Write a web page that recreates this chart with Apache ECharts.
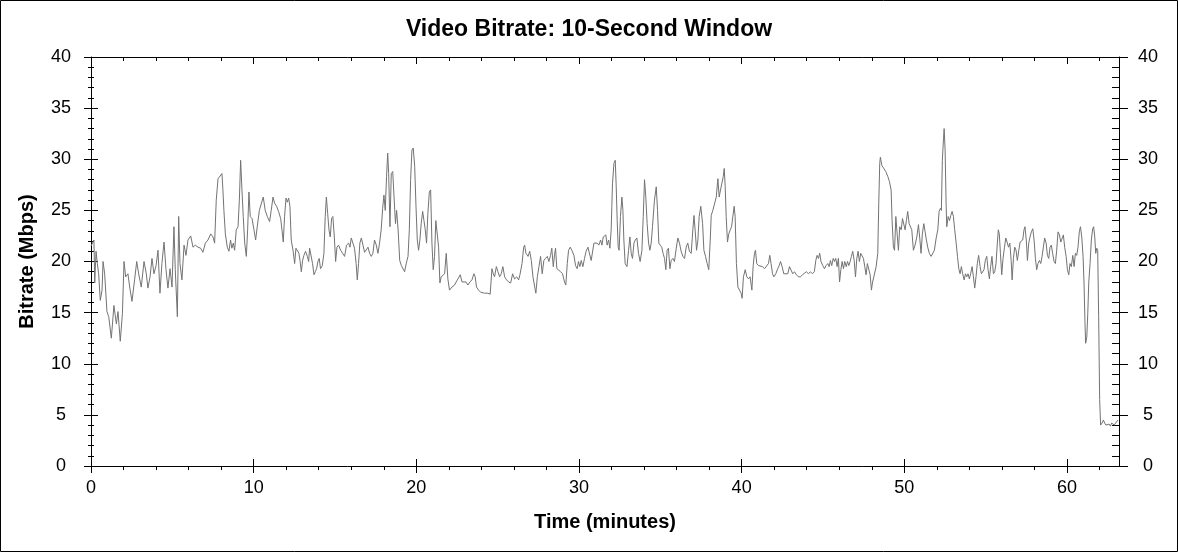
<!DOCTYPE html>
<html>
<head>
<meta charset="utf-8">
<script src="https://cdn.jsdelivr.net/npm/echarts@6/dist/echarts.min.js"></script>
<style>
  html, body { margin: 0; padding: 0; background: #fff; }
  #main { width: 1178px; height: 552px; }
</style>
</head>
<body>
<div id="main"></div>
<script>
// time (minutes) and bitrate (Mbps)
var minutes = [
  0.00,0.18,0.23,0.31,0.39,0.47,0.57,0.68,0.74,0.84,0.98,1.09,1.25,1.41,1.56,1.66,1.80,1.93,
  2.03,2.13,2.27,2.38,2.52,2.68,2.81,2.93,3.09,3.26,3.40,3.50,3.63,3.75,3.87,4.00,4.12,4.24,
  4.36,4.49,4.61,4.73,4.86,4.98,5.10,5.18,5.31,5.39,5.47,5.59,5.72,5.84,5.96,6.13,6.27,6.41,
  6.58,6.74,6.88,7.03,7.19,7.36,7.50,7.60,7.70,7.81,7.93,8.05,
  8.11,8.17,8.26,8.38,8.48,8.58,8.66,8.75,8.83,8.93,9.04,9.12,9.20,9.28,9.36,9.45,9.55,9.63,
  9.71,9.79,9.90,10.02,10.12,10.22,10.35,10.47,10.59,10.71,10.84,10.98,11.08,11.19,11.29,
  11.41,11.53,11.66,11.74,11.82,11.90,11.99,12.07,12.15,12.23,12.31,12.43,12.52,12.60,12.68,
  12.78,12.85,12.93,13.01,13.09,13.19,13.30,13.38,13.44,13.54,13.62,13.71,13.79,13.87,13.95,
  14.03,14.11,14.22,14.32,14.40,14.47,14.55,14.63,14.71,14.79,14.87,14.96,15.04,15.12,15.22,
  15.35,15.47,15.59,15.71,15.84,15.92,
  16.00,16.10,16.20,16.30,16.37,16.45,16.53,16.62,16.72,16.82,16.92,17.03,17.13,17.23,17.33,
  17.43,17.54,17.64,17.74,17.84,17.93,18.01,18.09,18.17,18.24,18.30,18.38,18.46,18.55,18.63,
  18.72,18.79,18.88,18.98,19.08,19.18,19.28,19.38,19.49,19.57,19.65,19.73,19.81,19.90,19.98,
  20.06,20.14,20.22,20.30,20.39,20.47,20.55,20.63,20.71,20.80,20.88,20.96,21.04,21.12,21.20,
  21.29,21.37,21.45,21.53,21.64,21.74,21.84,21.94,22.04,22.19,22.35,22.45,22.56,22.70,22.81,
  22.93,23.05,23.17,23.30,23.42,23.54,23.62,23.70,23.83,23.95,
  24.20,24.40,24.54,24.65,24.73,24.81,24.92,25.02,25.12,25.22,25.32,25.43,25.55,25.67,25.80,
  25.92,26.04,26.17,26.29,26.37,26.50,26.60,26.66,26.74,26.87,26.97,27.07,27.17,27.28,27.35,
  27.44,27.54,27.64,27.74,27.84,27.94,28.05,28.15,28.25,28.33,28.42,28.50,28.56,28.64,28.75,
  28.87,28.99,29.11,29.19,29.28,29.36,29.46,29.56,29.69,29.79,29.89,29.97,30.05,30.14,30.24,
  30.34,30.44,30.55,30.65,30.75,30.83,30.92,31.02,31.12,31.22,31.33,31.41,31.49,31.57,31.65,
  31.73,31.82,31.90,31.98,32.02,
  32.06,32.15,32.23,32.29,32.35,32.41,32.47,32.55,32.64,32.70,32.76,32.84,32.95,33.05,33.13,
  33.21,33.29,33.38,33.46,33.56,33.66,33.76,33.87,33.95,34.03,34.11,34.19,34.28,34.36,34.44,
  34.52,34.64,34.75,34.83,34.91,34.99,35.09,35.17,35.26,35.34,35.42,35.50,35.59,35.67,35.77,
  35.87,35.98,36.08,36.18,36.28,36.39,36.49,36.59,36.69,36.79,36.90,37.00,37.07,37.15,37.23,
  37.31,37.39,37.49,37.60,37.68,37.78,37.88,37.98,38.07,38.13,38.23,38.34,38.44,38.54,38.62,
  38.70,38.79,38.87,38.93,38.99,39.05,39.13,39.21,39.30,39.38,39.46,39.54,39.60,39.68,39.77,
  39.87,39.97,40.03,
  40.11,40.22,40.32,40.42,40.52,40.63,40.71,40.79,40.85,40.93,41.04,41.16,41.28,41.41,41.53,
  41.65,41.73,41.81,41.90,41.98,42.10,42.22,42.31,42.39,42.49,42.59,42.71,42.84,42.94,43.04,
  43.14,43.25,43.37,43.49,43.62,43.74,43.86,43.98,44.11,44.23,44.35,44.47,44.56,44.64,44.72,
  44.80,44.88,44.99,45.09,45.19,45.30,45.38,45.46,45.54,45.63,45.71,45.79,45.87,45.95,46.02,
  46.10,46.18,46.26,46.34,46.43,46.51,46.59,46.67,46.75,46.83,46.92,47.00,47.08,47.16,47.24,
  47.32,47.41,47.49,47.57,47.65,47.73,47.82,47.90,47.98,48.04,
  48.16,48.27,48.37,48.43,48.49,48.53,48.62,48.74,48.86,48.99,49.09,49.19,49.25,49.33,49.40,
  49.48,49.56,49.64,49.72,49.81,49.89,49.97,50.05,50.13,50.21,50.30,50.38,50.46,50.56,50.66,
  50.77,50.87,50.95,51.03,51.11,51.20,51.28,51.36,51.44,51.54,51.65,51.77,51.85,51.96,52.06,
  52.14,52.22,52.28,52.34,52.41,52.45,52.51,52.57,52.61,52.70,52.78,52.86,52.94,53.02,53.10,
  53.19,53.27,53.35,53.43,53.51,53.59,53.68,53.76,53.84,53.92,54.00,54.08,54.17,54.25,54.33,
  54.41,54.49,54.57,54.66,54.74,54.82,54.90,54.98,55.07,55.15,55.23,55.31,55.39,55.48,55.56,
  55.64,55.72,55.78,55.84,55.91,55.99,
  56.07,56.16,56.24,56.32,56.41,56.49,56.57,56.63,56.71,56.79,56.87,56.95,57.04,57.12,57.20,
  57.28,57.36,57.42,57.50,57.57,57.65,57.73,57.81,57.90,57.98,58.06,58.14,58.22,58.31,58.39,
  58.47,58.55,58.63,58.72,58.80,58.88,58.96,59.04,59.12,59.21,59.29,59.37,59.45,59.54,59.62,
  59.70,59.78,59.86,59.95,60.03,60.11,60.19,60.27,60.36,60.44,60.52,60.60,60.68,60.76,60.83,
  60.91,60.99,61.05,61.11,61.15,61.22,61.28,61.34,61.42,61.50,61.58,61.64,61.71,61.77,61.83,
  61.89,61.95,62.01,62.07,62.16,62.24,62.32,62.40,62.50,62.59,62.67,62.75,62.83,62.91,62.99,
  63.08,63.14
];
var mbps = [
  21.5,22.1,17.9,21.0,19.8,18.8,16.2,17.2,20.0,18.8,15.1,14.6,12.5,15.7,13.9,15.1,12.2,14.9,
  20.0,18.5,18.8,17.5,16.1,18.2,20.0,18.8,17.5,20.0,18.8,17.4,18.5,20.3,18.8,19.6,21.1,16.9,
  19.8,21.9,19.2,17.4,19.3,17.5,23.4,19.2,14.6,24.4,19.8,18.2,21.6,20.6,22.1,22.5,21.4,21.6,
  21.4,21.3,20.9,21.8,22.1,22.7,22.4,21.8,26.0,28.1,28.0,28.6,
  27.0,25.0,22.7,21.4,21.0,22.1,21.3,21.8,21.1,23.1,23.4,26.0,29.9,27.0,24.4,21.8,20.5,23.1,
  26.8,24.4,24.2,23.1,22.1,23.4,25.0,25.0,26.3,25.0,24.4,23.9,25.0,26.3,25.7,
  25.4,24.9,24.2,23.1,21.9,24.4,26.2,25.8,26.2,25.4,22.1,21.0,19.8,21.3,21.4,
  20.8,20.1,19.0,20.1,20.6,21.0,20.5,20.0,21.3,21.3,19.8,18.7,19.0,19.3,20.0,
  20.3,19.3,19.6,20.8,24.4,26.3,24.7,23.1,22.4,24.2,24.4,22.4,20.0,21.4,21.6,
  21.1,20.8,20.5,21.6,21.8,21.4,
  22.3,21.8,21.3,19.8,18.2,19.8,21.8,22.3,21.6,20.9,21.0,21.4,20.8,20.5,20.8,
  22.1,21.6,20.8,21.8,23.1,25.2,26.5,25.0,28.3,30.6,28.6,23.4,28.6,28.8,26.3,
  23.7,25.0,23.1,20.1,19.6,19.5,19.0,19.8,20.5,23.1,28.0,30.9,31.1,29.3,25.4,
  22.1,21.1,22.1,23.7,24.9,24.0,23.1,21.8,24.7,26.8,27.0,21.8,19.2,20.5,24.0,
  24.0,21.4,17.9,18.5,18.5,18.8,20.8,18.3,17.2,17.5,17.7,18.0,18.3,18.7,18.0,
  17.9,18.0,17.7,18.0,18.2,18.8,18.5,17.5,17.2,17.0,
  16.9,16.9,16.8,19.3,18.8,18.5,19.5,19.0,18.5,18.8,19.5,18.5,18.2,18.0,17.9,
  18.8,18.3,18.5,18.2,18.7,19.8,21.4,21.6,20.8,20.5,21.0,20.1,18.5,17.5,16.9,
  18.5,19.5,20.5,18.8,20.1,20.3,20.5,20.0,20.6,21.3,19.5,20.7,21.3,19.3,19.2,
  19.0,18.8,18.0,17.7,19.8,21.1,21.4,21.1,20.6,19.6,19.3,20.0,19.5,20.1,19.5,
  20.3,21.0,21.4,21.4,20.1,20.0,21.8,21.8,21.8,21.6,22.1,21.6,22.4,22.3,22.6,
  21.6,22.1,21.3,23.1,25.4,
  27.6,29.6,29.9,27.3,24.0,21.4,21.1,24.4,26.3,25.0,22.1,19.8,19.5,21.1,22.4,
  20.8,20.3,21.8,22.1,22.3,20.8,20.0,21.1,24.4,28.0,26.3,23.7,21.8,21.1,21.8,
  23.4,26.0,27.3,25.0,21.8,21.6,21.4,20.8,20.3,19.2,21.1,21.3,19.3,20.1,20.3,
  20.0,21.3,22.3,21.8,21.0,20.5,20.3,21.4,21.8,21.0,20.8,23.1,24.5,22.9,21.1,
  22.1,24.4,25.4,23.7,21.1,20.5,19.8,19.2,22.1,24.5,25.0,25.0,26.3,28.1,26.3,
  27.0,27.1,28.3,29.1,27.3,24.4,21.9,22.7,23.1,23.4,23.4,25.4,24.4,19.8,17.5,
  17.4,16.9,16.4,
  18.5,19.2,18.5,18.3,18.5,17.2,19.6,20.8,21.1,19.8,19.6,19.5,19.5,19.3,19.2,
  19.8,20.6,19.8,18.8,18.5,18.8,19.3,19.6,20.0,19.5,18.8,18.8,18.8,19.5,19.5,
  18.8,19.0,18.7,18.5,18.5,18.7,18.7,19.0,18.8,19.0,18.8,19.0,20.1,20.6,20.3,
  20.8,20.0,19.6,19.3,19.6,19.8,19.5,20.1,19.6,20.3,20.0,20.3,19.5,20.3,18.0,
  19.2,20.0,19.3,20.0,19.5,20.0,19.6,20.0,20.5,21.0,20.1,18.5,20.3,21.0,20.0,
  20.8,20.8,20.3,19.5,18.7,19.8,19.8,18.7,17.2,17.9,
  17.9,19.5,20.8,25.7,29.6,30.2,29.4,29.3,28.8,28.3,27.8,27.0,24.0,21.4,21.1,
  24.4,22.7,21.1,23.4,23.1,24.2,24.2,23.1,24.0,24.9,23.7,23.6,23.1,21.1,21.6,
  22.4,23.6,22.3,20.8,22.7,23.7,22.9,22.1,21.4,20.8,20.5,20.5,21.1,22.3,23.1,
  24.9,25.2,25.0,29.9,32.0,33.0,30.9,25.7,23.4,24.4,24.0,24.5,24.9,24.4,23.1,
  21.8,20.5,19.3,18.8,19.5,18.8,18.2,18.8,18.5,18.8,18.3,18.8,19.5,18.5,17.4,
  18.5,19.8,20.6,19.5,18.8,18.8,19.2,20.1,20.5,19.2,18.3,19.5,20.5,18.8,19.0,
  19.8,21.8,23.1,22.7,20.8,18.7,
  20.3,21.4,22.3,21.9,21.4,21.8,20.1,18.2,20.3,21.4,21.1,20.1,21.1,21.9,21.9,
  22.1,23.1,23.4,22.1,20.1,21.8,22.4,22.9,23.2,22.1,20.3,19.2,19.8,20.1,19.8,
  20.5,21.4,22.3,21.8,20.6,20.3,21.4,21.6,20.8,20.0,19.8,21.1,22.9,22.6,21.9,
  21.8,22.6,21.4,20.5,19.2,18.7,19.8,19.5,20.6,19.5,20.8,20.6,21.4,22.9,23.4,
  22.4,20.5,17.9,13.9,12.0,12.6,14.9,17.9,19.8,22.1,23.2,23.4,22.4,20.8,21.3,
  21.1,14.6,6.5,4.0,4.2,4.5,4.2,4.0,4.0,4.1,3.9,4.2,4.1,4.0,4.2,
  4.2,4.5
];

// axis ticks
var xMajor = [0, 10, 20, 30, 40, 50, 60];
var xMinor = [2, 4, 6, 8, 12, 14, 16, 18, 22, 24, 26, 28, 32, 34, 36, 38,
              42, 44, 46, 48, 52, 54, 56, 58, 62];
var xMax = 63.2;

var font = "'Liberation Sans', Arial, sans-serif";
var black = '#000';

var points = minutes.map(function (t, i) { return [t, mbps[i]]; });

var chart = echarts.init(document.getElementById('main'));

// an x axis that only draws some ticks (used several times to fake crossing ticks)
function xTicks(pos, values, len, inside, showLine) {
    return {
        type: 'value', position: pos, min: 0, max: xMax,
        axisLine: { show: showLine, onZero: false, lineStyle: { color: black, width: 1 } },
        axisTick: { show: true, customValues: values, length: len, inside: inside,
                    lineStyle: { color: black, width: 1 } },
        axisLabel: { show: false },
        splitLine: { show: false }
    };
}

function yTicks(pos, len, minorLen, inside) {
    return {
        type: 'value', position: pos, min: 0, max: 40, interval: 5,
        axisLine: { show: false, onZero: false },
        axisTick: { show: true, length: len, inside: inside, lineStyle: { color: black } },
        minorTick: { show: minorLen > 0, splitNumber: 5, length: minorLen, lineStyle: { color: black } },
        axisLabel: { show: false },
        splitLine: { show: false }
    };
}

var xMain = xTicks('bottom', xMajor, 7, false, true);
xMain.axisLabel = { show: true, customValues: xMajor, color: black, fontSize: 18,
                    fontFamily: font, margin: 13 };
xMain.name = 'Time (minutes)';
xMain.nameLocation = 'middle';
xMain.nameGap = 46;
xMain.nameTextStyle = { color: black, fontSize: 20, fontWeight: 'bold', fontFamily: font };

var yLeft = yTicks('left', 7, 3, false);
yLeft.axisLine = { show: true, onZero: false, lineStyle: { color: black, width: 1 } };
yLeft.axisLabel = { show: true, color: black, fontSize: 18, fontFamily: font,
                    align: 'center', margin: 30 };
yLeft.name = 'Bitrate (Mbps)';
yLeft.nameLocation = 'middle';
yLeft.nameGap = 54;
yLeft.nameTextStyle = { color: black, fontSize: 20, fontWeight: 'bold', fontFamily: font };

var yRight = yTicks('right', 9, 0, false);
yRight.axisLine = { show: true, onZero: false, lineStyle: { color: black, width: 1 } };
yRight.axisLabel = { show: true, color: black, fontSize: 18, fontFamily: font,
                     align: 'center', margin: 29 };

var option = {
    animation: false,
    backgroundColor: '#fff',
    title: {
        text: 'Video Bitrate: 10-Second Window',
        left: 'center',
        top: 13,
        textStyle: { color: black, fontSize: 23, fontWeight: 'bold', fontFamily: font }
    },
    grid: { left: 91, right: 59, top: 57, bottom: 86, containLabel: false },
    xAxis: [
        xMain,
        xTicks('bottom', xMajor, 7, true, false),
        xTicks('bottom', xMinor, 4, false, false),
        xTicks('top', xMajor, 7, true, true),
        xTicks('top', xMinor, 4, true, false)
    ],
    yAxis: [
        yLeft,
        yTicks('left', 7, 3, true),
        yRight,
        yTicks('right', 7, 7, true)
    ],
    series: [{
        type: 'line',
        data: points,
        xAxisIndex: 0,
        yAxisIndex: 0,
        showSymbol: false,
        symbol: 'none',
        lineStyle: { color: '#737373', width: 1 },
        z: 1
    }],
    graphic: [{
        type: 'rect',
        shape: { x: 0.5, y: 0.5, width: 1177, height: 551 },
        style: { fill: null, stroke: black, lineWidth: 1 },
        silent: true
    }]
};

chart.setOption(option);
</script>
</body>
</html>
